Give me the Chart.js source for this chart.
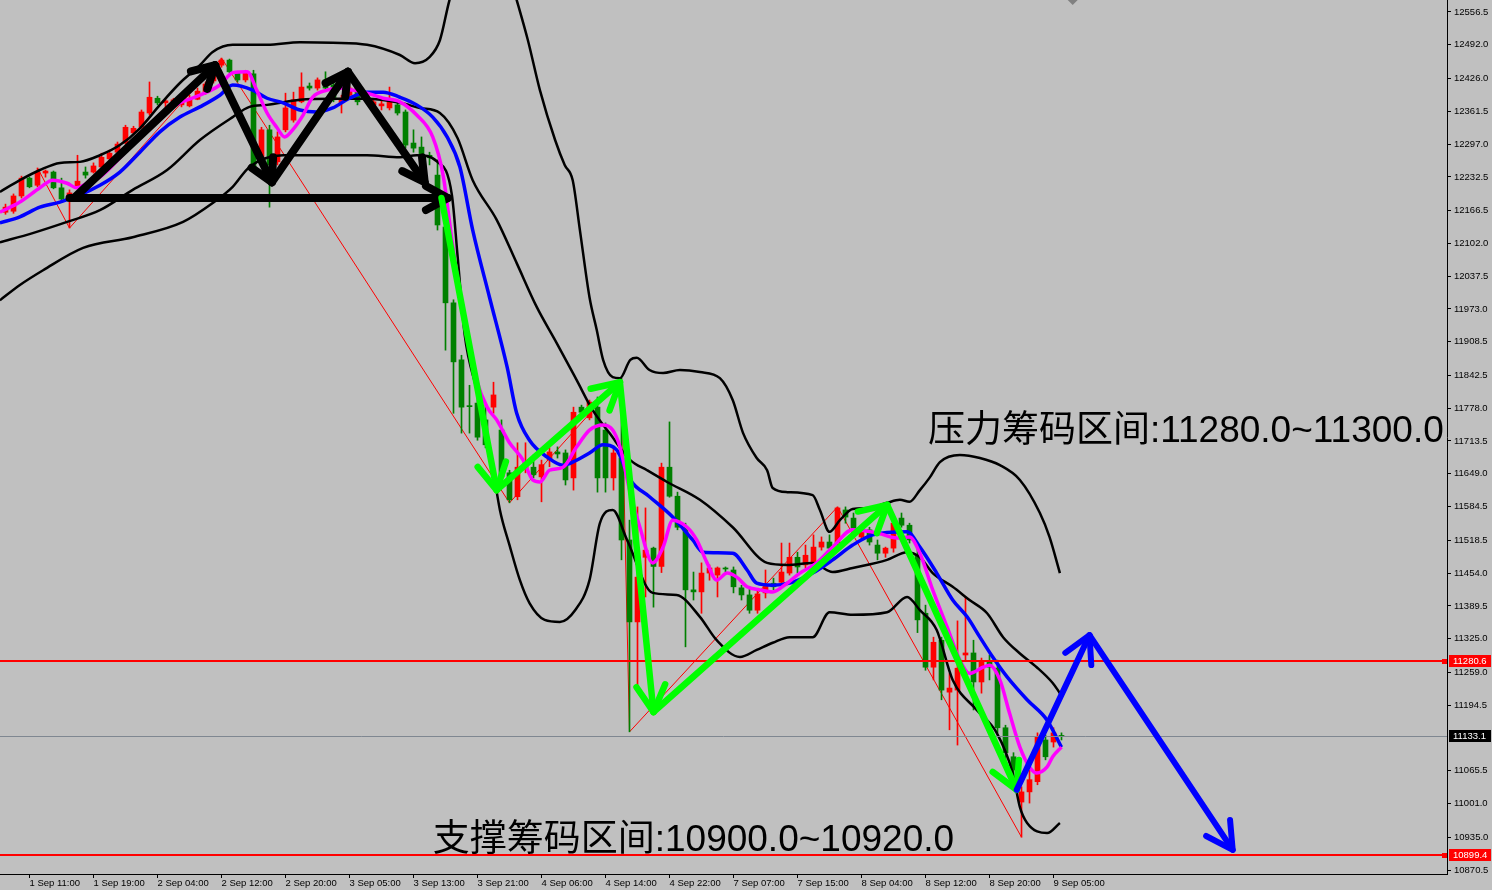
<!DOCTYPE html>
<html>
<head>
<meta charset="utf-8">
<script src="https://cdn.jsdelivr.net/npm/chart.js@4.4.1/dist/chart.umd.min.js"></script>
<style>
html, body { margin: 0; padding: 0; background: #c0c0c0; }
#wrap { width: 1492px; height: 890px; }
</style>
</head>
<body>
<div id="wrap"><canvas id="c" width="1492" height="890"></canvas></div>
<script>
// hourly bars, NAS100, 1 Sep - 9 Sep
const open = [12163,12165,12195,12230,12216,12240,12242,12211,12189,12215,
  12242,12242,12252,12268,12281,12299,12319,12330,12358,12387,
  12378,12378,12374,12372,12385,12399,12421,12452,12462,12437,
  12423,12435,12262,12325,12262,12325,12344,12380,12411,12407,
  12423,12413,12378,12393,12407,12397,12374,12372,12368,12374,
  12360,12299,12291,12275,12236,12134,11985,11873,11783,11788,
  11755,11780,11735,11651,11604,11660,11662,11643,11676,11692,
  11690,11641,11780,11759,11780,11735,11641,11680,11519,11358,
  11485,11503,11467,11662,11605,11544,11421,11417,11454,11450,
  11464,11460,11425,11411,11381,11415,11434,11436,11454,11485,
  11470,11474,11505,11515,11513,11578,11562,11525,11539,11509,
  11493,11503,11562,11548,11490,11375,11269,11322,11220,11224,
  11293,11297,11240,11279,11267,11150,11093,11004,11024,11044,
  11126,11122,11134];
const high = [12179,12199,12234,12232,12250,12246,12244,12230,12207,12275,
  12252,12260,12279,12285,12301,12334,12332,12364,12419,12391,
  12387,12387,12387,12393,12407,12419,12440,12466,12464,12440,
  12442,12442,12330,12334,12321,12397,12399,12437,12417,12427,
  12439,12417,12393,12411,12409,12401,12384,12382,12409,12378,
  12364,12325,12311,12281,12266,12138,11991,11882,11823,11804,
  11784,11829,11755,11656,11710,11710,11686,11676,11700,11702,
  11696,11780,11784,11794,11800,11749,11702,11837,11558,11584,
  11582,11505,11670,11751,11613,11552,11456,11474,11470,11466,
  11466,11466,11430,11427,11419,11460,11444,11513,11513,11495,
  11509,11529,11525,11529,11584,11584,11572,11544,11544,11519,
  11505,11558,11572,11552,11509,11391,11328,11328,11257,11360,
  11407,11322,11287,11293,11283,11155,11101,11034,11067,11140,
  11136,11150,11140];
const low = [12159,12161,12191,12211,12213,12232,12209,12187,12132,12211,
  12230,12240,12250,12262,12279,12297,12315,12328,12354,12374,
  12370,12372,12370,12370,12384,12395,12417,12448,12437,12419,
  12419,12242,12256,12173,12256,12321,12340,12378,12403,12403,
  12403,12380,12358,12389,12374,12385,12370,12364,12364,12354,
  12289,12281,12271,12256,12128,11892,11768,11729,11729,11715,
  11700,11768,11637,11592,11598,11651,11641,11594,11663,11680,
  11627,11617,11765,11755,11613,11613,11617,11480,11142,11224,
  11407,11387,11455,11603,11539,11309,11401,11375,11440,11407,
  11456,11415,11401,11375,11375,11405,11421,11430,11450,11454,
  11464,11470,11499,11495,11499,11552,11535,11519,11509,11480,
  11485,11495,11544,11513,11337,11263,11244,11205,11146,11116,
  11283,11185,11218,11244,11140,11087,11028,10935,11002,11038,
  11087,11112,11126];
const close = [12173,12195,12230,12213,12242,12244,12211,12189,12201,12224,
  12236,12254,12271,12279,12297,12330,12328,12360,12389,12378,
  12382,12384,12384,12387,12401,12415,12437,12462,12439,12423,
  12439,12250,12325,12256,12311,12368,12384,12409,12407,12423,
  12407,12384,12387,12407,12380,12389,12380,12376,12380,12358,
  12295,12289,12275,12270,12138,11985,11869,11780,11781,11721,
  11706,11804,11643,11598,11662,11672,11647,11667,11692,11688,
  11637,11770,11770,11790,11641,11641,11690,11519,11358,11446,
  11499,11467,11662,11605,11544,11421,11417,11454,11464,11464,
  11462,11427,11411,11381,11413,11430,11427,11456,11485,11466,
  11489,11505,11515,11503,11582,11564,11542,11539,11515,11493,
  11503,11552,11548,11519,11362,11269,11318,11224,11228,11267,
  11297,11240,11279,11269,11150,11101,11067,11024,11048,11132,
  11093,11140,11133];

// indicator lines: [bar, price]
const upperBand = [[-0.7,12203],[1.8,12226],[4.3,12246],[6.8,12260],[9.3,12262],[11.8,12275],[14.3,12295],[16.8,12328],[19.3,12374],[21.8,12417],[24.3,12452],[25.9,12478],[28.4,12492],[32.7,12492],[36.8,12497],[40.9,12496],[45.2,12492],[49.3,12472],[51.2,12456],[53.0,12468],[54.3,12501],[55.5,12580],[57.4,12668],[59.9,12720],[62.4,12660],[63.9,12580],[65.3,12501],[66.8,12403],[68.7,12305],[69.9,12256],[70.9,12226],[71.8,12128],[73.0,11996],[73.9,11932],[74.7,11873],[75.9,11839],[76.8,11837],[78.1,11873],[78.9,11877],[80.5,11853],[82.2,11847],[84.3,11853],[86.8,11849],[89.3,11837],[90.9,11794],[92.2,11729],[93.9,11680],[95.2,11656],[95.9,11621],[97.7,11613],[100.9,11607],[101.8,11578],[103.0,11535],[104.3,11558],[105.9,11580],[108.0,11582],[110.2,11592],[111.8,11598],[113.0,11594],[114.3,11617],[115.5,11641],[116.8,11672],[119.3,11686],[121.8,11680],[124.3,11666],[126.8,11637],[129.3,11572],[130.5,11525],[131.8,11454]];
const middleBand = [[-0.7,12104],[3.4,12122],[7.7,12144],[11.8,12167],[15.9,12207],[20.2,12246],[24.3,12305],[28.4,12350],[30.5,12370],[32.7,12374],[36.8,12384],[40.9,12386],[45.2,12386],[49.3,12378],[51.8,12368],[54.3,12358],[56.5,12309],[58.4,12226],[61.4,12148],[63.9,12063],[66.4,11977],[68.9,11906],[71.4,11833],[73.4,11774],[75.5,11729],[78.1,11676],[80.2,11656],[82.7,11633],[86.8,11598],[90.9,11544],[95.2,11474],[97.7,11470],[100.9,11474],[103.4,11456],[105.9,11464],[110.2,11480],[112.7,11495],[114.3,11485],[115.9,11454],[118.4,11427],[120.5,11401],[122.7,11375],[124.7,11328],[126.8,11296],[128.9,11269],[130.9,11238],[131.8,11218]];
const lowerBand = [[-0.7,11990],[1.8,12020],[4.7,12049],[9.7,12093],[15.9,12114],[22.2,12144],[25.9,12181],[28.4,12213],[30.5,12252],[34.7,12275],[40.9,12275],[45.2,12275],[49.3,12271],[51.4,12275],[54.0,12262],[55.8,12197],[56.5,12079],[57.4,11922],[58.9,11814],[60.5,11702],[61.8,11578],[63.0,11509],[64.3,11440],[65.5,11395],[67.4,11362],[69.3,11358],[71.2,11381],[73.0,11440],[74.3,11552],[75.9,11578],[77.7,11519],[80.9,11415],[83.9,11411],[86.8,11368],[88.9,11322],[91.8,11289],[93.9,11303],[95.9,11317],[98.0,11328],[100.9,11328],[103.0,11377],[105.9,11372],[110.2,11377],[112.7,11407],[114.3,11381],[116.4,11342],[118.4,11244],[121.4,11185],[123.9,11140],[125.9,11061],[126.8,10994],[127.7,10963],[130.2,10943],[131.8,10963]];
const pinkMA = [[-0.7,12163],[1.8,12183],[4.3,12211],[5.9,12226],[7.7,12220],[8.9,12211],[10.2,12220],[11.8,12232],[14.3,12270],[16.8,12315],[19.3,12354],[21.8,12378],[24.3,12393],[26.8,12413],[28.4,12437],[30.2,12439],[31.4,12403],[32.7,12358],[33.9,12330],[34.9,12311],[35.9,12325],[37.2,12354],[38.4,12389],[40.2,12403],[41.8,12407],[43.4,12403],[45.2,12397],[47.2,12387],[49.3,12380],[51.4,12354],[53.4,12311],[54.7,12236],[55.8,12108],[57.2,11965],[58.9,11833],[60.2,11780],[61.4,11755],[63.0,11710],[64.7,11676],[65.9,11637],[66.8,11633],[68.0,11656],[69.7,11662],[71.4,11702],[73.0,11735],[74.7,11745],[75.9,11735],[76.8,11702],[78.1,11611],[79.3,11544],[80.9,11474],[82.2,11505],[83.4,11558],[85.2,11544],[86.4,11519],[87.7,11474],[88.9,11440],[90.2,11454],[91.4,11446],[92.7,11427],[94.3,11421],[95.9,11417],[97.7,11434],[99.3,11454],[101.4,11474],[103.4,11505],[105.9,11539],[108.9,11533],[111.4,11523],[113.0,11525],[114.3,11493],[115.9,11421],[117.7,11348],[119.3,11283],[120.5,11257],[122.2,11269],[123.0,11273],[124.3,11244],[125.5,11179],[126.8,11112],[128.0,11073],[128.9,11061],[130.2,11073],[130.9,11093],[132.0,11112]];
const blueMA = [[-0.7,12142],[1.8,12154],[4.3,12173],[6.8,12183],[9.3,12197],[11.8,12216],[14.3,12242],[16.8,12281],[19.3,12321],[21.8,12350],[24.3,12370],[26.8,12393],[28.4,12413],[30.9,12403],[32.7,12387],[34.7,12378],[36.8,12364],[38.9,12360],[40.9,12368],[43.0,12387],[45.2,12399],[47.2,12399],[49.3,12389],[51.4,12374],[53.4,12350],[55.2,12311],[56.8,12252],[58.4,12128],[60.5,11996],[62.7,11859],[63.9,11768],[65.5,11715],[67.7,11682],[69.7,11666],[71.4,11676],[73.0,11690],[74.7,11706],[76.4,11696],[78.1,11637],[80.5,11604],[83.4,11564],[85.9,11519],[87.2,11495],[90.9,11493],[92.7,11460],[93.9,11434],[95.9,11430],[98.4,11436],[100.9,11454],[103.4,11480],[105.9,11509],[108.4,11529],[112.7,11535],[114.3,11505],[116.4,11454],[118.4,11401],[120.2,11368],[121.8,11328],[123.4,11289],[125.2,11250],[127.7,11205],[130.2,11165],[132.0,11112]];
const zigzag = [[4,12250],[8,12132],[27,12466],[63,11592],[77,11837],[78,11142],[104,11584],[127,10935]];

// drawn arrows: [[bar, price], [bar, price]]
const blackArrows = [[[8.7,12193],[26.2,12452]],[[26.2,12452],[33.3,12222]],[[33.3,12222],[42.8,12439]],[[42.8,12439],[52.4,12222]],[[8.0,12191],[55.3,12191]]];
const greenArrows = [[[54.5,12191],[61.4,11617]],[[61.4,11617],[76.8,11829]],[[76.8,11829],[81.0,11181]],[[81.0,11181],[110.2,11588]],[[110.2,11588],[126.4,11028]]];
const blueArrows = [[[126.4,11028],[135.5,11332]],[[135.5,11332],[153.4,10910]]];

const redLevels = [11280.6, 10899.4];
const lastPrice = 11133.1;
const notes = [
  { text: '压力筹码区间:11280.0~11300.0', bar: 115.3, price: 11711 },
  { text: '支撑筹码区间:10900.0~10920.0', bar: 53.4, price: 10908 }
];

const xTickBars = [3,11,19,27,35,43,51,59,67,75,83,91,99,107,115,123,131];
const xLabels = ['1 Sep 11:00','1 Sep 19:00','2 Sep 04:00','2 Sep 12:00','2 Sep 20:00','3 Sep 05:00','3 Sep 13:00','3 Sep 21:00','4 Sep 06:00','4 Sep 14:00','4 Sep 22:00','7 Sep 07:00','7 Sep 15:00','8 Sep 04:00','8 Sep 12:00','8 Sep 20:00','9 Sep 05:00'];
const yTicks = [12556.5,12492.0,12426.0,12361.5,12297.0,12232.5,12166.5,12102.0,12037.5,11973.0,11908.5,11842.5,11778.0,11713.5,11649.0,11584.5,11518.5,11454.0,11389.5,11325.0,11259.0,11194.5,11065.5,11001.0,10935.0,10870.5];
const shiftBar = 133.4;

const BG = '#c0c0c0', RED = '#ff0000', GREEN = '#008000';
const AXIS_FONT = { family: 'Liberation Sans', size: 9.5 };

const idx = open.map((_, i) => i);
const candleColor = i => close[i] >= open[i] ? RED : GREEN;
const pts = arr => arr.map(([x, y]) => ({ x, y }));
const lineDs = (data, color, width, order) => ({
  type: 'line', data: pts(data), borderColor: color, borderWidth: width,
  pointRadius: 0, cubicInterpolationMode: 'monotone', order
});

function arrow(ctx, x1, y1, x2, y2, color, w, head) {
  ctx.strokeStyle = color;
  ctx.lineWidth = w;
  ctx.lineCap = 'round';
  ctx.lineJoin = 'round';
  ctx.beginPath(); ctx.moveTo(x1, y1); ctx.lineTo(x2, y2); ctx.stroke();
  const ang = Math.atan2(y2 - y1, x2 - x1);
  ctx.beginPath();
  ctx.moveTo(x2 - head * Math.cos(ang - 0.5), y2 - head * Math.sin(ang - 0.5));
  ctx.lineTo(x2, y2);
  ctx.lineTo(x2 - head * Math.cos(ang + 0.5), y2 - head * Math.sin(ang + 0.5));
  ctx.stroke();
}

const overlay = {
  id: 'overlay',
  beforeDraw(chart) {
    const ctx = chart.ctx;
    ctx.save();
    ctx.fillStyle = BG;
    ctx.fillRect(0, 0, chart.width, chart.height);
    ctx.restore();
  },
  afterDatasetsDraw(chart) {
    const { ctx, chartArea: a, scales: { x, y } } = chart;
    ctx.save();
    ctx.beginPath(); ctx.rect(a.left, a.top, a.right - a.left, a.bottom - a.top); ctx.clip();

    const lp = Math.round(y.getPixelForValue(lastPrice)) + 0.5;
    ctx.strokeStyle = '#7f8791'; ctx.lineWidth = 1;
    ctx.beginPath(); ctx.moveTo(a.left, lp); ctx.lineTo(a.right, lp); ctx.stroke();

    ctx.strokeStyle = RED; ctx.lineWidth = 2;
    redLevels.forEach(v => {
      const p = Math.round(y.getPixelForValue(v));
      ctx.beginPath(); ctx.moveTo(a.left, p); ctx.lineTo(a.right, p); ctx.stroke();
    });

    const draw = (list, color, w, head) => list.forEach(([p1, p2]) =>
      arrow(ctx, x.getPixelForValue(p1[0]), y.getPixelForValue(p1[1]),
        x.getPixelForValue(p2[0]), y.getPixelForValue(p2[1]), color, w, head));
    draw(blackArrows, '#000000', 8, 25);
    draw(greenArrows, '#00ff00', 6.5, 30);
    draw(blueArrows, '#0000ff', 6, 30);

    ctx.fillStyle = '#000';
    ctx.font = '37px "Liberation Sans", "Noto Sans CJK SC"';
    ctx.textAlign = 'left';
    ctx.textBaseline = 'alphabetic';
    notes.forEach(n => ctx.fillText(n.text, x.getPixelForValue(n.bar), y.getPixelForValue(n.price)));
    ctx.restore();
  },
  afterDraw(chart) {
    const { ctx, chartArea: a, scales: { x, y } } = chart;
    ctx.save();
    ctx.font = '9.5px "Liberation Sans"';
    ctx.textAlign = 'left';
    ctx.textBaseline = 'middle';
    const box = (v, bg, marker) => {
      const p = Math.round(y.getPixelForValue(v));
      ctx.fillStyle = bg;
      ctx.fillRect(a.right + 2, p - 6, chart.width - a.right - 3, 12);
      if (marker) ctx.fillRect(a.right - 5, p - 2, 5, 5);
      ctx.fillStyle = '#fff';
      ctx.fillText(v.toFixed(1), a.right + 6, p + 0.5);
    };
    redLevels.forEach(v => box(v, RED, true));
    box(lastPrice, '#000', false);

    const sx = x.getPixelForValue(shiftBar);
    ctx.fillStyle = '#808080';
    ctx.beginPath(); ctx.moveTo(sx - 5, 0); ctx.lineTo(sx + 5, 0); ctx.lineTo(sx, 5); ctx.closePath(); ctx.fill();
    ctx.restore();
  }
};

new Chart(document.getElementById('c'), {
  type: 'bar',
  data: {
    datasets: [
      { type: 'line', data: pts(zigzag), borderColor: RED, borderWidth: 1, pointRadius: 0, tension: 0, order: 12 },
      { data: idx.map(i => ({ x: i, y: [low[i], high[i]] })), backgroundColor: idx.map(candleColor),
        barThickness: 1, grouped: false, order: 11 },
      { data: idx.map(i => ({ x: i, y: [open[i], close[i]] })), backgroundColor: idx.map(candleColor),
        barThickness: 5, minBarLength: 1, grouped: false, order: 10 },
      lineDs(upperBand, '#000000', 2.5, 9),
      lineDs(middleBand, '#000000', 2.5, 8),
      lineDs(lowerBand, '#000000', 2.5, 7),
      lineDs(blueMA, '#0000ff', 3.5, 6),
      lineDs(pinkMA, '#ff00ff', 3.5, 5)
    ]
  },
  options: {
    responsive: false,
    animation: false,
    devicePixelRatio: 1,
    layout: { padding: 0 },
    plugins: { legend: { display: false }, tooltip: { enabled: false } },
    scales: {
      x: {
        type: 'linear',
        min: -0.6875,
        max: 180.1875,
        offset: false,
        bounds: 'data',
        grid: { drawOnChartArea: false, drawTicks: true, tickLength: 4, color: '#000', offset: false },
        border: { display: true, color: '#000', width: 1 },
        ticks: { autoSkip: false, maxRotation: 0, align: 'start', padding: 0, color: '#000', font: AXIS_FONT,
          callback: (v, i) => xLabels[i] },
        afterBuildTicks: s => { s.ticks = xTickBars.map(v => ({ value: v })); },
        afterFit: s => { s.height = 16; s.paddingLeft = 0; s.paddingRight = 0; }
      },
      y: {
        type: 'linear',
        position: 'right',
        min: 10862.64,
        max: 12580.08,
        bounds: 'data',
        grid: { drawOnChartArea: false, drawTicks: true, tickLength: 4, color: '#000' },
        border: { display: true, color: '#000', width: 1 },
        ticks: { autoSkip: false, padding: 3, color: '#000', font: AXIS_FONT,
          callback: v => Number(v).toFixed(1) },
        afterBuildTicks: s => { s.ticks = yTicks.map(v => ({ value: v })); },
        afterFit: s => { s.width = 45; s.paddingTop = 0; s.paddingBottom = 0; }
      }
    }
  },
  plugins: [overlay]
});
</script>
</body>
</html>
